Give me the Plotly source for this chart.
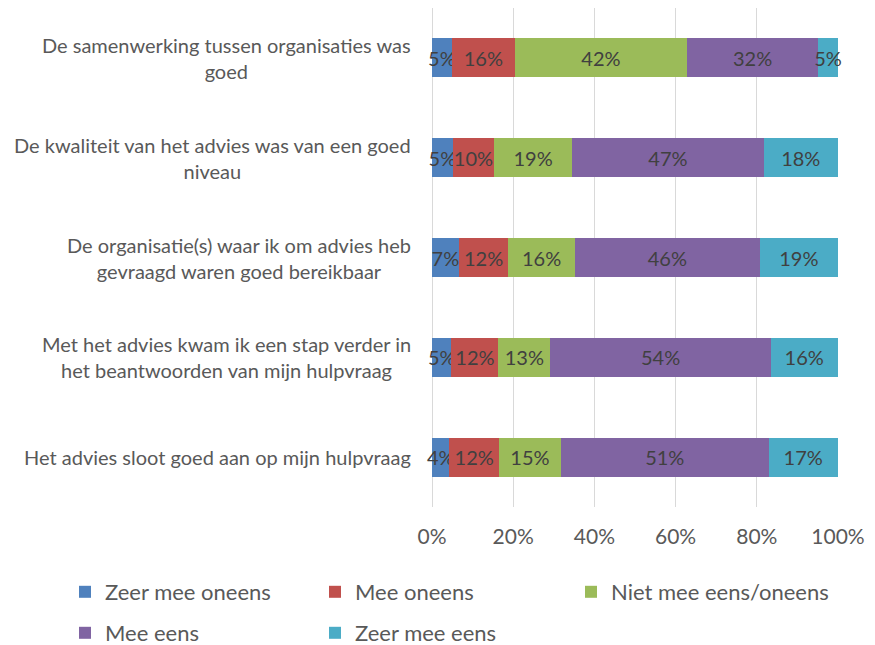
import plotly.graph_objects as go

categories = [
    "De samenwerking tussen organisaties was<br>goed",
    "De kwaliteit van het advies was van een goed<br>niveau",
    "De organisatie(s) waar ik om advies heb<br>gevraagd waren goed bereikbaar",
    "Met het advies kwam ik een stap verder in<br>het beantwoorden van mijn hulpvraag",
    "Het advies sloot goed aan op mijn hulpvraag",
]
series_names = ["Zeer mee oneens", "Mee oneens", "Niet mee eens/oneens", "Mee eens", "Zeer mee eens"]
zeer_mee_oneens = [4.85, 5.1, 6.6, 4.8, 4.3]
mee_oneens = [15.6, 10.2, 12.2, 11.55, 12.2]
neutraal = [42.3, 19.2, 16.4, 12.8, 15.25]
mee_eens = [32.4, 47.2, 45.55, 54.3, 51.15]
zeer_mee_eens = [4.8, 18.25, 19.2, 16.45, 17.05]
colors = ["#4F81BD", "#C0504D", "#9BBB59", "#8064A2", "#4BACC6"]
tick_vals = [0, 20, 40, 60, 80, 100]
tick_text = ["0%", "20%", "40%", "60%", "80%", "100%"]
legend_groups = ["legend", "legend", "legend3", "legend2", "legend2"]

series = [zeer_mee_oneens, mee_oneens, neutraal, mee_eens, zeer_mee_eens]
FONT = "Lato"

fig = go.Figure()
for name, vals, col, lg in zip(series_names, series, colors, legend_groups):
    fig.add_trace(go.Bar(
        y=categories, x=vals, name=name, orientation="h",
        marker=dict(color=col, line=dict(width=0)),
        texttemplate="%{x:.0f}%", textposition="inside", textangle=0,
        insidetextanchor="middle", constraintext="none", cliponaxis=False,
        textfont=dict(family=FONT, size=20, color="#404040"),
        hoverinfo="skip", legend=lg,
    ))

for c in categories:
    fig.add_annotation(
        x=0, xref="paper", y=c, yref="y", xanchor="right", xshift=-19,
        text=c, showarrow=False, align="center",
        font=dict(family=FONT, size=20, color="#595959"),
    )

# page has an 8px body margin: figure is drawn from (8, 8)
W, H = 867, 637
plot_l, plot_r, plot_t, plot_b = 424, 830, 0, 499
ph = plot_b - plot_t
pw = plot_r - plot_l


def leg(x_px, y_px, entry_w=205):
    return dict(
        orientation="h",
        x=(x_px - plot_l) / pw, xanchor="left",
        y=(plot_b - y_px) / ph, yanchor="middle",
        traceorder="normal", entrywidth=entry_w, entrywidthmode="pixels",
        itemwidth=30, bgcolor="rgba(0,0,0,0)",
        font=dict(family=FONT, size=22, color="#595959"),
    )


fig.update_layout(
    width=W, height=H,
    barmode="stack", bargap=0.61,
    paper_bgcolor="white", plot_bgcolor="white",
    margin=dict(l=plot_l, r=W - plot_r, t=plot_t, b=H - plot_b, autoexpand=False),
    uniformtext=dict(minsize=20, mode="show"),
    showlegend=True,
    legend=leg(57, 584),
    legend2=leg(57, 625),
    legend3=leg(563, 584, entry_w=255),
    font=dict(family=FONT, color="#595959"),
)
fig.update_xaxes(
    range=[0, 100], tickvals=tick_vals, ticktext=tick_text,
    showgrid=True, gridcolor="#D9D9D9", gridwidth=1,
    zeroline=True, zerolinecolor="#D9D9D9", zerolinewidth=1,
    showline=False, ticks="", ticklabelstandoff=15,
    tickfont=dict(family=FONT, size=21, color="#595959"),
)
fig.update_yaxes(
    categoryorder="array", categoryarray=categories, autorange="reversed",
    showticklabels=False, showgrid=False, zeroline=False, showline=False,
)

fig.write_html("out.html")
